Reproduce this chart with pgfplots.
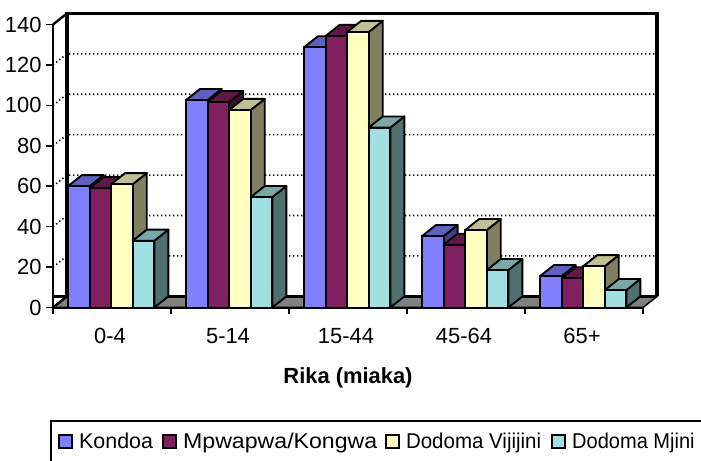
\documentclass[border=0pt]{standalone}
\usepackage{fontspec}
\setmainfont{Liberation Sans}
\usepackage{pgfplots}
\pgfplotsset{compat=1.18}
\definecolor{Kf}{HTML}{8080FF}\definecolor{Kt}{HTML}{6060C0}\definecolor{Ks}{HTML}{404080}
\definecolor{Pf}{HTML}{802060}\definecolor{Pt}{HTML}{601848}\definecolor{Ps}{HTML}{401030}
\definecolor{Vf}{HTML}{FFFFC0}\definecolor{Vt}{HTML}{C0C090}\definecolor{Vs}{HTML}{808060}
\definecolor{Mf}{HTML}{A0E0E0}\definecolor{Mt}{HTML}{78A8A8}\definecolor{Ms}{HTML}{507070}
\newcommand\dd{0.1186}\newcommand\ee{5.5}
\newcommand\tbar[4]{%
 \pgfmathsetmacro\xa{#1+0.127+#2*0.183}%
 \pgfmathsetmacro\xb{\xa+0.183}%
 \pgfmathsetmacro\xc{\xa+\dd}%
 \pgfmathsetmacro\xd{\xb+\dd}%
 \pgfmathsetmacro\yt{#3+\ee}%
 \addplot[forget plot,mark=none,fill=#4s,draw=black,line width=1.9bp,line join=round] coordinates {(\xb,0)(\xb,#3)(\xd,\yt)(\xd,\ee)} --cycle;
 \addplot[forget plot,mark=none,fill=#4t,draw=black,line width=1.9bp,line join=round] coordinates {(\xa,#3)(\xb,#3)(\xd,\yt)(\xc,\yt)} --cycle;
 \addplot[forget plot,mark=none,fill=#4f,draw=black,line width=1.9bp,line join=round] coordinates {(\xa,0)(\xa,#3)(\xb,#3)(\xb,0)} --cycle;
}
\newcommand\gridl[1]{%
 \pgfmathsetmacro\yb{#1+\ee}%
 \addplot[forget plot,mark=none,black,line width=1.6bp,dash pattern=on 1.3bp off 2.7bp] coordinates {(0,#1)(\dd,\yb)(5+\dd,\yb)};
}
\newcommand\lsw[1]{\draw[fill=#1,draw=black,line width=1.9bp] (1bp,-6.6bp) rectangle (14.5bp,6.9bp);}
\begin{document}
\begin{tikzpicture}[x=1bp,y=1bp]
\path[use as bounding box] (0,0) rectangle (701,461);
\begin{axis}[
 at={(53bp,153.5bp)},anchor=south west,
 scale only axis,width=590bp,height=283bp,
 xmin=0,xmax=5,ymin=0,ymax=140,clip=false,
 axis x line=bottom,axis y line=left,
 axis line style={-,line width=2.6bp,black},
 xtick={0,1,2,3,4,5},
 xticklabels={0-4,5-14,15-44,45-64,65+},
 x tick label as interval,
 ytick={0,20,40,60,80,100,120,140},
 tick align=outside,
 major tick length=7bp,
 tick style={black,line width=1.6bp},
 /pgf/number format/assume math mode=true,
 tick label style={font=\fontsize{22}{24}\selectfont},
 yticklabel style={xshift=-1bp},
 xticklabel style={yshift=-10bp,xshift=-2bp},
 xlabel={\fontsize{22}{24}\selectfont\bfseries Rika (miaka)},
 xlabel style={at={(axis description cs:0.5,-0.25)},anchor=center},
 legend columns=4,
 legend style={at={(axis description cs:-0.005,-0.3985)},anchor=north west,
   draw=black,line width=1.5bp,font=\fontsize{21.5}{24}\selectfont,
   inner xsep=7bp,inner ysep=12bp,
   nodes={inner xsep=0bp,inner ysep=0bp},
   column sep=0bp,
   /tikz/every odd column/.append style={column sep=6bp},
   /tikz/column 2/.append style={column sep=8.7bp},
   /tikz/column 4/.append style={column sep=7.3bp},
   /tikz/column 6/.append style={column sep=9.6bp}},
 legend cell align=left,
]
\addlegendimage{legend image code/.code={\lsw{Kf}}}
\addlegendimage{legend image code/.code={\lsw{Pf}}}
\addlegendimage{legend image code/.code={\lsw{Vf}}}
\addlegendimage{legend image code/.code={\lsw{Mf}}}
% back wall and floor
\addplot[forget plot,mark=none,fill=gray,draw=black,line width=1.5bp] coordinates {(0,0)(\dd,\ee)(5+\dd,\ee)(5,0)} --cycle;
\gridl{20}\gridl{40}\gridl{60}\gridl{80}\gridl{100}\gridl{120}
\addplot[forget plot,mark=none,black,line width=3.4bp] coordinates {(0,\ee)(5.1186,\ee)};
\addplot[forget plot,mark=none,black,line width=3.6bp,line join=miter] coordinates {(0.1186,5.5)(0.1186,145.5)(5.1186,145.5)(5.1186,5.5)};
\addplot[forget plot,mark=none,black,line width=2.4bp] coordinates {(0,140)(0.1186,145.5)};
\addplot[forget plot,mark=none,black,line width=2.4bp] coordinates {(0,0)(0.1186,5.5)};
% series: group, slot, value, colour
\tbar{0}{0}{60}{K}\tbar{1}{0}{102.6}{K}\tbar{2}{0}{128.7}{K}\tbar{3}{0}{35.3}{K}\tbar{4}{0}{15.5}{K}
\tbar{0}{1}{59}{P}\tbar{1}{1}{101.6}{P}\tbar{2}{1}{134.3}{P}\tbar{3}{1}{31}{P}\tbar{4}{1}{14.4}{P}
\tbar{0}{2}{61}{V}\tbar{1}{2}{97.7}{V}\tbar{2}{2}{136.3}{V}\tbar{3}{2}{38.3}{V}\tbar{4}{2}{20.4}{V}
\tbar{0}{3}{33}{M}\tbar{1}{3}{54.6}{M}\tbar{2}{3}{89}{M}\tbar{3}{3}{18.5}{M}\tbar{4}{3}{8.6}{M}
\legend{Kondoa,\scalebox{1.08}[1]{Mpwapwa/Kongwa},\scalebox{0.957}[1]{Dodoma Vijijini},\scalebox{0.935}[1]{Dodoma Mjini}}
\end{axis}
\end{tikzpicture}
\end{document}
